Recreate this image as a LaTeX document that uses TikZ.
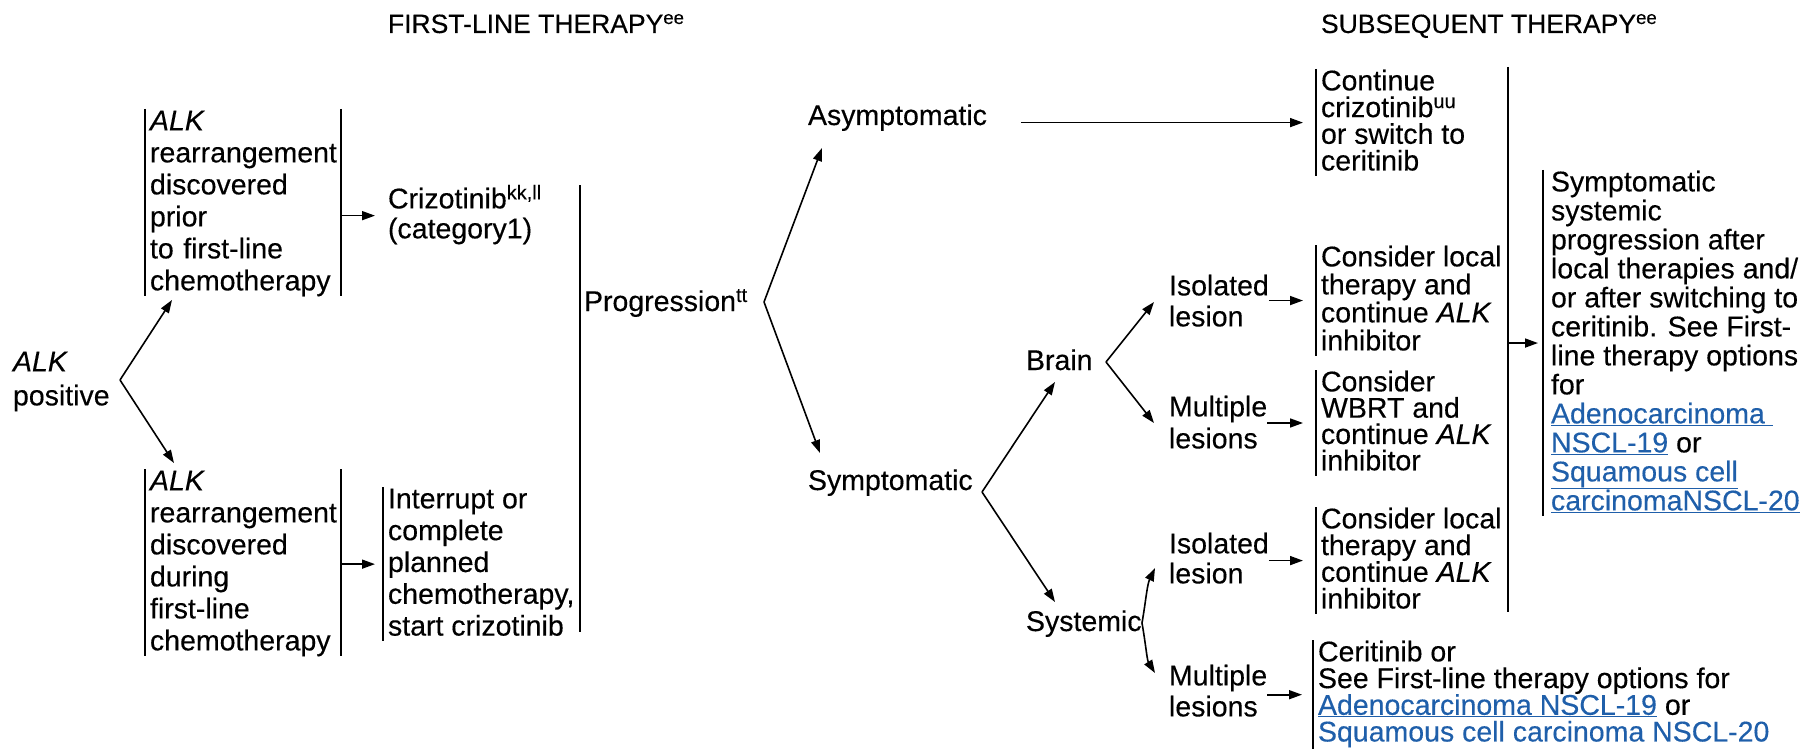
\documentclass[tikz,border=0pt]{standalone}
\usepackage{fontspec}
\setmainfont{Liberation Sans}[FakeBold=0.3]
\usetikzlibrary{arrows.meta}
\definecolor{lnk}{RGB}{31,95,170}
\newcommand{\tst}{\rule{0pt}{0.75em}}
\newcommand{\bst}{\rule[-0.2em]{0pt}{0.2em}}
\newcommand{\lk}[1]{\textcolor{lnk}{\underline{#1}}}
\newcommand{\sps}[1]{\textsuperscript{\smash{#1}}}
\begin{document}
\begin{tikzpicture}[x=1pt,y=-1pt,
  every node/.style={inner sep=0pt, outer sep=0pt},
  txt/.style={anchor=north west, align=left},
  lead/.style={font={\fontsize{28.5}{#1}\selectfont\lineskiplimit=-50pt}},
  wbox/.style={txt, inner xsep=5pt, text width=186pt},
  lbox/.style={txt, inner xsep=5pt},
  ttl/.style={anchor=base west, font={\fontsize{26.5}{30}\selectfont}},
  one/.style={anchor=base west, font={\fontsize{28.5}{32}\selectfont}},
  bar/.style={line width=2pt},
  arr/.style={line width=1.6pt, -{Triangle[length=13pt,width=9pt]}},
]
\useasboundingbox (0,0) rectangle (1818,749);

% titles
\node[ttl] (t1) at (388,33) {FIRST-LINE THERAPY\sps{ee}};
\node[ttl] (t2) at (1321,33) {SUBSEQUENT THERAPY\sps{ee}};

% first-line part
\node[txt, lead=34] (alk) at (13,350) {\tst\textit{ALK}\\positive\bst};
\coordinate (alkp) at (120,380);
\node[wbox, lead=32] (b1) at (145,109) {\tst\textit{ALK}\\rearrangement\\discovered\\prior\\to first-line\\chemotherapy\bst};
\node[wbox, lead=32] (b2) at (145,469) {\tst\textit{ALK}\\rearrangement\\discovered\\during\\first-line\\chemotherapy\bst};
\node[txt, lead=30] (crz) at (388,187) {\tst Crizotinib\sps{kk,ll}\\(category1)\bst};
\node[lbox, lead=31.8] (intr) at (383,487) {\tst Interrupt or\\complete\\planned\\chemotherapy,\\start crizotinib\bst};
\node[one] (prog) at (584,311) {Progression\sps{tt}};
\coordinate (progT) at (580,185);
\coordinate (progB) at (580,632);
\coordinate (progp) at (764,302);

\coordinate (b1tip) at (172,300);
\coordinate (b2tip) at (174,463);

% progression branches
\node[one] (asym) at (808,125) {Asymptomatic};
\node[one] (symp) at (808,490) {Symptomatic};
\coordinate (asymtip) at (822,148);
\coordinate (symptip) at (820,453);
\coordinate (sympp) at (982,492);

\node[lbox, lead=26.7] (cont) at (1316,69) {\tst Continue\\crizotinib\sps{uu}\\or switch to\\ceritinib\bst};

\node[one] (brain) at (1026,370) {Brain};
\coordinate (braintip) at (1055,382);
\coordinate (brainp) at (1106,362);
\node[one] (sys) at (1026,631) {Systemic};
\coordinate (systip) at (1055,602);
\coordinate (sysp) at (1142,623);

\node[txt, lead=31] (isol1) at (1169,274) {\tst Isolated\\lesion\bst};
\node[txt, lead=32] (mult1) at (1169,395) {\tst Multiple\\lesions\bst};
\coordinate (isol1tip) at (1154,302);
\coordinate (mult1tip) at (1154,423);
\node[txt, lead=30] (isol2) at (1169,532) {\tst Isolated\\lesion\bst};
\node[txt, lead=31] (mult2) at (1169,664) {\tst Multiple\\lesions\bst};
\coordinate (isol2tip) at (1155,568);
\coordinate (mult2tip) at (1155,673);

\node[lbox, lead=28] (consA) at (1316,245) {\tst Consider local\\therapy and\\continue \textit{ALK}\\inhibitor\bst};
\node[lbox, lead=26.3] (consB) at (1316,370) {\tst Consider\\WBRT and\\continue \textit{ALK}\\inhibitor\bst};
\node[lbox, lead=26.7] (consC) at (1316,507) {\tst Consider local\\therapy and\\continue \textit{ALK}\\inhibitor\bst};
\node[lbox, lead=26.7] (cer) at (1313,640) {\tst Ceritinib or\\See First-line therapy options for\\\lk{Adenocarcinoma NSCL-19} or\\\lk{Squamous cell carcinoma NSCL-20}\bst};

\coordinate (bigT) at (1508,67);
\coordinate (bigB) at (1508,612);
\node[lbox, lead=29, inner xsep=8pt] (symb) at (1543,170) {\tst Symptomatic\\systemic\\progression after\\local therapies and/\\or after switching to\\ceritinib. See First-\\line therapy options\\for\\\lk{Adenocarcinoma }\\\lk{NSCL-19} or\\\lk{Squamous cell}\\\lk{carcinomaNSCL-20}\bst};

% bars
\draw[bar] (b1.north west) -- (b1.south west);
\draw[bar] (b1.north east) -- (b1.south east);
\draw[bar] (b2.north west) -- (b2.south west);
\draw[bar] (b2.north east) -- (b2.south east);
\draw[bar] (intr.north west) -- (intr.south west);
\draw[bar] (progT) -- (progB);
\draw[bar] (cont.north west) -- (cont.south west);
\draw[bar] (consA.north west) -- (consA.south west);
\draw[bar] (consB.north west) -- (consB.south west);
\draw[bar] (consC.north west) -- (consC.south west);
\draw[bar] (cer.north west) -- (cer.south west);
\draw[bar] (bigT) -- (bigB);
\draw[bar] (symb.north west) -- (symb.south west);

% arrows
\draw[arr] (alkp) -- (b1tip);
\draw[arr] (alkp) -- (b2tip);
\draw[arr, shorten >=13pt] (b1.east |- crz.west) -- (crz.west);
\draw[arr, shorten >=8pt] (b2.east |- intr.west) -- (intr.west);
\draw[arr] (progp) -- (asymtip);
\draw[arr] (progp) -- (symptip);
\draw[arr, shorten <=34pt, shorten >=13pt] (asym.east |- cont.west) -- (cont.west);
\draw[arr] (sympp) -- (braintip);
\draw[arr] (sympp) -- (systip);
\draw[arr] (brainp) -- (isol1tip);
\draw[arr] (brainp) -- (mult1tip);
\draw[arr] (sysp) .. controls (1146,600) and (1147,585) .. (isol2tip);
\draw[arr] (sysp) .. controls (1146,646) and (1147,660) .. (mult2tip);
\draw[arr, shorten >=13pt] (isol1.east |- consA.west) -- (consA.west);
\draw[arr, shorten >=13pt] (mult1.east |- consB.west) -- (consB.west);
\draw[arr, shorten >=13pt] (isol2.east |- consC.west) -- (consC.west);
\draw[arr, shorten >=11pt] (mult2.east |- cer.west) -- (cer.west);
\draw[arr, shorten >=5pt] (bigT |- symb.west) -- (symb.west);
\end{tikzpicture}
\end{document}
